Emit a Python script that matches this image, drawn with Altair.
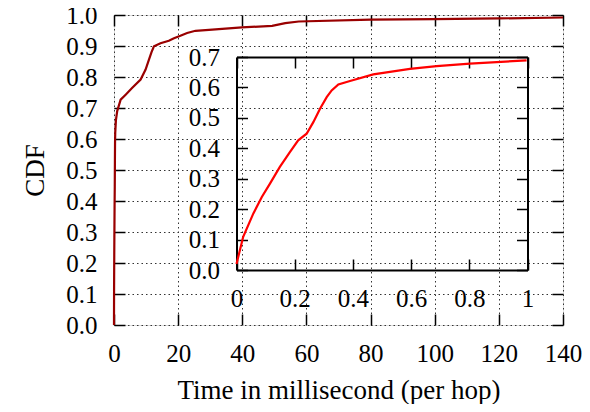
import altair as alt
import pandas as pd

# ---- data ----
main_t = [0, 0.0, 0.023, 0.058, 0.115, 0.184, 0.241, 0.287, 0.327, 0.39, 0.6, 1.0,
          2.07, 3.63, 5.7, 8.3, 9.85, 10.9, 11.7, 12.45, 14.5, 17.1, 18.7, 20.7,
          22.8, 25.4, 29.6, 39.9, 49.3, 53.4, 57.6, 80, 100, 120, 140]
main_cdf = [0, 0.02, 0.109, 0.186, 0.284, 0.388, 0.448, 0.53, 0.59, 0.621, 0.661, 0.69,
            0.727, 0.743, 0.765, 0.792, 0.824, 0.856, 0.88, 0.899, 0.909, 0.917, 0.925, 0.933,
            0.942, 0.949, 0.952, 0.96, 0.965, 0.974, 0.979, 0.985, 0.987, 0.989, 0.992]

inset_t = [0.0, 0.023, 0.058, 0.087, 0.115, 0.149, 0.184, 0.212, 0.241, 0.264, 0.287,
           0.31, 0.327, 0.35, 0.39, 0.47, 0.596, 0.688, 0.802, 0.997]
inset_cdf = [0.02, 0.109, 0.186, 0.24, 0.284, 0.339, 0.388, 0.426, 0.448, 0.486, 0.53,
             0.568, 0.59, 0.61, 0.621, 0.643, 0.661, 0.67, 0.678, 0.689]

main_xticks = [0, 20, 40, 60, 80, 100, 120, 140]
main_yticks = [0.0, 0.1, 0.2, 0.3, 0.4, 0.5, 0.6, 0.7, 0.8, 0.9, 1.0]
inset_xticks = [0, 0.2, 0.4, 0.6, 0.8, 1]
inset_yticks = [0.0, 0.1, 0.2, 0.3, 0.4, 0.5, 0.6, 0.7]

x_title = "Time in millisecond (per hop)"
y_title = "CDF"

# ---- layout ----
W, H = 449, 310
IX0, IX1 = 122.5, 413.5     # inset horizontal span inside plot
IY0, IY1 = 255.0, 42.0      # inset vertical span (bottom, top)
TL = 11                     # tick length
FONT = "Liberation Serif"
LFS = 25
TFS = 27

main_df = pd.DataFrame({"t": main_t, "cdf": main_cdf})
inset_df = pd.DataFrame({"t": inset_t, "cdf": inset_cdf})

mxs = alt.Scale(domain=[0, 140], range=[0, W], nice=False, zero=False)
mys = alt.Scale(domain=[0, 1], range=[H, 0], nice=False, zero=False)
ixs = alt.Scale(domain=[0, 1], range=[IX0, IX1], nice=False, zero=False)
iys = alt.Scale(domain=[0, 0.7], range=[IY0, IY1], nice=False, zero=False)


def tick_axis(orient, values, offset):
    return alt.Axis(orient=orient, values=values, offset=offset, tickSize=TL,
                    ticks=True, tickColor="black", tickWidth=1.5, labels=False,
                    domain=False, grid=False, title=None)


def layer(df, xs, ys, xaxis, yaxis, color, opacity):
    return alt.Chart(df).mark_line(color=color, strokeWidth=2.2, opacity=opacity).encode(
        x=alt.X("t:Q", scale=xs, axis=xaxis),
        y=alt.Y("cdf:Q", scale=ys, axis=yaxis),
    )


lab = dict(labelFont=FONT, labelFontSize=LFS, labelColor="black", labelFlush=False,
           labelOverlap=False)

# main: labelled axes with dotted grid
m1 = layer(main_df, mxs, mys,
           alt.Axis(orient="bottom", values=main_xticks, format="d", ticks=False, tickSize=0,
                    domain=False, grid=True, gridColor="#333", gridDash=[1.5, 3], gridWidth=1,
                    labelPadding=16, title=x_title, titleFont=FONT, titleFontSize=TFS,
                    titleFontWeight="normal", titleColor="black", titlePadding=11, **lab),
           alt.Axis(orient="left", values=main_yticks, format=".1f", ticks=False, tickSize=0,
                    domain=False, grid=True, gridColor="#333", gridDash=[1.5, 3], gridWidth=1,
                    labelPadding=17, title=y_title, titleFont=FONT, titleFontSize=TFS,
                    titleFontWeight="normal", titleColor="black", titlePadding=16, **lab),
           "#990000", 1)
m2 = layer(main_df, mxs, mys, tick_axis("bottom", main_xticks, -TL),
           tick_axis("left", main_yticks, -TL), "#990000", 0)
m3 = layer(main_df, mxs, mys, tick_axis("top", main_xticks, -TL),
           tick_axis("right", main_yticks, -TL), "#990000", 0)

# inset
i1 = layer(inset_df, ixs, iys,
           alt.Axis(orient="bottom", values=inset_xticks, format="~g", offset=IY0 - H,
                    ticks=False, tickSize=0, domain=True, domainColor="black", domainWidth=2,
                    grid=False, labelPadding=16, title=None, **lab),
           alt.Axis(orient="left", values=inset_yticks, format=".1f", offset=-IX0,
                    ticks=False, tickSize=0, domain=True, domainColor="black", domainWidth=2,
                    grid=False, labelPadding=17, title=None, **lab),
           "#ff0000", 1)
i2 = layer(inset_df, ixs, iys, tick_axis("bottom", inset_xticks, IY0 - H - TL),
           tick_axis("left", inset_yticks, -IX0 - TL), "#ff0000", 0)
i3 = layer(inset_df, ixs, iys,
           alt.Axis(orient="top", values=inset_xticks, offset=-IY1, ticks=False, tickSize=0,
                    labels=False, domain=True, domainColor="black", domainWidth=2,
                    grid=False, title=None),
           alt.Axis(orient="right", values=inset_yticks, offset=IX1 - W, ticks=False,
                    tickSize=0, labels=False, domain=True, domainColor="black",
                    domainWidth=2, grid=False, title=None),
           "#ff0000", 0)
i4 = layer(inset_df, ixs, iys, tick_axis("top", inset_xticks, -IY1 - TL),
           tick_axis("right", inset_yticks, IX1 - W - TL), "#ff0000", 0)

chart = (
    alt.layer(m1, m2, m3, i1, i2, i3, i4)
    .resolve_scale(x="independent", y="independent")
    .resolve_axis(x="independent", y="independent")
    .properties(width=W, height=H, autosize=alt.AutoSizeParams(type="none"),
                padding={"left": 106, "top": 7, "right": 19, "bottom": 79})
    .configure_view(stroke="black", strokeWidth=2)
    .configure(background="white")
)

chart.save("out.html", embed_options={"renderer": "svg", "actions": False})
